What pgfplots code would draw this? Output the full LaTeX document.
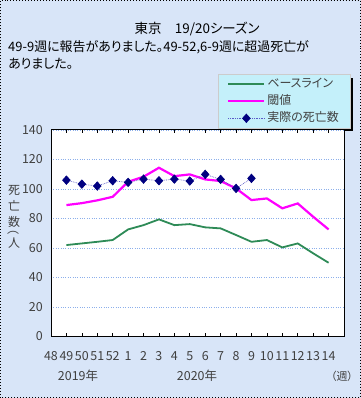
\documentclass[border=0pt]{standalone}
\usepackage{fontspec}
\setmainfont{Noto Sans CJK JP}[RawFeature={+palt}]
\usepackage{pgfplots}
\pgfplotsset{compat=1.18}
\definecolor{bgblue}{RGB}{216,229,248}
\definecolor{gridblue}{RGB}{140,175,235}
\definecolor{basegreen}{RGB}{46,139,87}
\definecolor{threshmag}{RGB}{255,0,255}
\definecolor{actnavy}{RGB}{0,0,128}
\definecolor{actline}{RGB}{90,90,200}
\definecolor{legfill}{RGB}{196,240,250}
\begin{document}
\begin{tikzpicture}[x=1bp,y=1bp]
\fill[bgblue] (0,0) rectangle (361,398);
\draw[black, dotted, line width=1bp] (0.5,0.5) rectangle (360.5,397.5);
\node[font=\fontsize{13.5}{16}\selectfont] at (197,398-29) {東京\hspace{1em}19/20シーズン};
\node[font=\fontsize{13}{15}\selectfont, anchor=west, inner sep=0pt] at (8,398-47) {49-9週に報告がありました。49-52,6-9週に超過死亡が};
\node[font=\fontsize{13}{15}\selectfont, anchor=west, inner sep=0pt] at (8,398-64) {ありました。};
% legend shadow
\fill[black] (222,398-131.5) rectangle (352.5,398-78);
\begin{axis}[
  at={(51bp,61.5bp)}, anchor=origin,
  width=293bp, height=206.5bp, scale only axis,
  xmin=0, xmax=19, ymin=0, ymax=140,
  axis background/.style={fill=white},
  axis line style={black, line width=1bp},
  ytick={0,20,...,140},
  xtick={0,...,18},
  xticklabels={48,49,50,51,52,1,2,3,4,5,6,7,8,9,10,11,12,13,14},
  ymajorgrids, grid style={gridblue, dotted, line width=0.8bp},
  tick align=inside,
  major tick length=3bp,
  ytick style={draw=none},
  xtick style={black, line width=0.6bp},
  /pgf/number format/assume math mode=true,
  tick label style={font=\fontsize{12.5}{14}\selectfont, text=black!75},
  xticklabel style={yshift=-15bp, inner sep=0pt},
  yticklabel style={xshift=-8bp, inner sep=0pt},
  legend style={at={(0.57,1.271)}, anchor=north west, draw=gray!40, line width=0.5bp, fill=legfill,
    font=\fontsize{12}{14}\selectfont, text=black!75, inner xsep=9bp, inner ysep=2bp,
    row sep=1bp, column sep=2bp,
    nodes={inner sep=0pt, text height=11bp, text depth=5bp}},
  legend cell align=left,
  legend image code/.code={\draw[#1, mark repeat=2, mark phase=2] plot coordinates {(0bp,0bp) (18bp,0bp) (36bp,0bp)};},
]
\addplot[basegreen, line width=1.8bp, mark=none] coordinates {
(1,62.0) (2,63.1) (3,64.2) (4,65.4) (5,72.6) (6,75.5) (7,79.4) (8,75.5) (9,76.2)
(10,74.0) (11,73.3) (12,68.8) (13,64.2) (14,65.4) (15,60.4) (16,63.1) (17,56.4) (18,50.0)};
\addlegendentry{\makebox[74bp][l]{ベースライン}}
\addplot[threshmag, line width=2.2bp, mark=none] coordinates {
(1,89.1) (2,90.4) (3,92.3) (4,94.7) (5,104.9) (6,108.3) (7,114.4) (8,108.7) (9,109.9)
(10,106.5) (11,105.4) (12,100.4) (13,92.5) (14,93.6) (15,86.9) (16,90.2) (17,81.2) (18,72.6)};
\addlegendentry{閾値}
\addplot[actline, densely dotted, line width=0.7bp, mark=diamond*, mark size=4.2bp,
  mark options={solid, fill=actnavy, draw=actnavy, xscale=1.2}] coordinates {
(1,106.0) (2,103.3) (3,102.0) (4,105.6) (5,104.5) (6,106.7) (7,105.6) (8,106.7) (9,105.4)
(10,109.9) (11,106.5) (12,100.4) (13,107.2)};
\addlegendentry{実際の死亡数}
\end{axis}
\begin{scope}[every node/.style={font=\fontsize{12}{13}\selectfont, text=black!75, inner sep=0pt}]
\node at (14,398-190) {死};
\node at (14,398-206) {亡};
\node at (14,398-222) {数};
\node at (13,398-233) {︵};
\node at (14,398-243) {人};
\end{scope}
\node[font=\fontsize{12.5}{14}\selectfont, text=black!75] at (78,398-376) {2019年};
\node[font=\fontsize{12.5}{14}\selectfont, text=black!75] at (197,398-376) {2020年};
\node[font=\fontsize{11}{13}\selectfont, text=black!75] at (342,398-376) {（週）};
\pgfresetboundingbox
\useasboundingbox (0,0) rectangle (361,398);
\end{tikzpicture}
\end{document}
